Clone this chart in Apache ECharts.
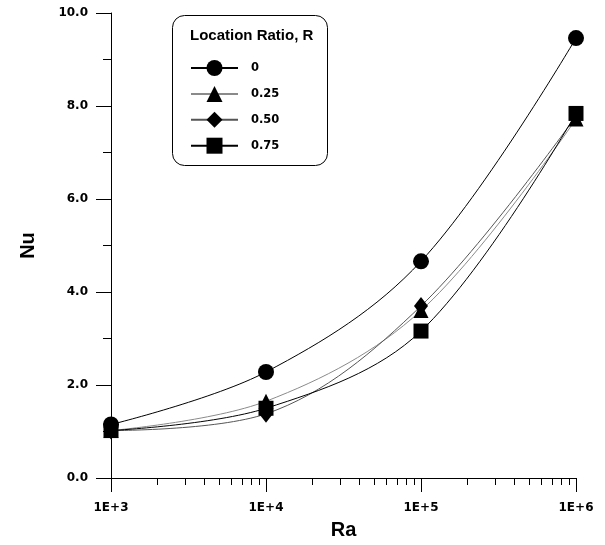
<!DOCTYPE html>
<html>
<head>
<meta charset="utf-8">
<script src="https://cdn.jsdelivr.net/npm/echarts@6/dist/echarts.min.js"></script>
<style>html,body{margin:0;padding:0;background:#fff}#c{width:605px;height:545px}</style>
</head>
<body>
<div id="c"></div>
<script>
var raValues = [1e3, 1e4, 1e5, 1e6];
var xTickLabels = ['1E+3', '1E+4', '1E+5', '1E+6'];
var seriesNames = ['0', '0.25', '0.50', '0.75'];
var nuR000 = [1.15, 2.28, 4.66, 9.46];
var nuR025 = [1.02, 1.65, 3.60, 7.72];
var nuR050 = [1.02, 1.38, 3.70, 7.78];
var nuR075 = [1.02, 1.50, 3.16, 7.84];
var minorRa = [2e3,3e3,4e3,5e3,6e3,7e3,8e3,9e3,2e4,3e4,4e4,5e4,6e4,7e4,8e4,9e4,2e5,3e5,4e5,5e5,6e5,7e5,8e5,9e5];

var FONT = '"Liberation Sans", Arial, sans-serif';
var TICKFONT = '"DejaVu Sans", sans-serif';
var chart = echarts.init(document.getElementById('c'));

function pairs(vals){ return raValues.map(function(x,i){ return [x, vals[i]]; }); }
function mk(name, vals, symbol, size, color){
  return {
    name: name, type: 'line', data: pairs(vals), smooth: 0.35,
    symbol: symbol, symbolSize: size, showSymbol: true,
    itemStyle: {color: '#000', borderWidth: 0},
    lineStyle: {color: color, width: 1},
    emphasis: {disabled: true}, animation: false
  };
}

var labelMap = {};
raValues.forEach(function(v,i){ labelMap[v] = xTickLabels[i]; });

chart.setOption({
  animation: false,
  grid: {left: 111, right: 29, top: 13, bottom: 66},
  xAxis: [{
    type: 'log', logBase: 10, min: 1e3, max: 1e6,
    name: 'Ra', nameLocation: 'middle', nameGap: 42,
    nameTextStyle: {fontFamily: FONT, fontWeight: 'bold', fontSize: 20, color: '#000'},
    axisLine: {lineStyle: {color: '#000', width: 1}},
    axisTick: {show: true, length: 14, lineStyle: {color: '#000'}},
    axisLabel: {margin: 24, fontFamily: TICKFONT, fontWeight: 'bold', fontSize: 12, color: '#000',
      formatter: function(v){ return labelMap[v] || ''; }},
    splitLine: {show: false}, minorTick: {show: false}
  },{
    type: 'log', logBase: 10, min: 1e3, max: 1e6, position: 'bottom',
    axisLine: {show: false},
    axisTick: {show: true, length: 7, customValues: minorRa, lineStyle: {color: '#000'}},
    axisLabel: {show: false},
    splitLine: {show: false}
  }],
  yAxis: {
    type: 'value', min: 0, max: 10, interval: 2,
    name: 'Nu', nameLocation: 'middle', nameGap: 73, nameRotate: 90,
    nameTextStyle: {fontFamily: FONT, fontWeight: 'bold', fontSize: 20, color: '#000'},
    axisLine: {show: true, lineStyle: {color: '#000', width: 1}},
    axisTick: {show: true, length: 15, lineStyle: {color: '#000'}},
    minorTick: {show: true, splitNumber: 2, length: 8, lineStyle: {color: '#000'}},
    axisLabel: {margin: 23, fontFamily: TICKFONT, fontWeight: 'bold', fontSize: 12, color: '#000',
      formatter: function(v){ return v.toFixed(1); }},
    splitLine: {show: false}
  },
  legend: {
    orient: 'vertical', left: 190, top: 60, padding: 0, itemWidth: 47, itemHeight: 20, itemGap: 9.9,
    data: seriesNames, selectedMode: false,
    textStyle: {fontFamily: TICKFONT, fontWeight: 'bold', fontSize: 11.5, color: '#000', padding: [0,0,0,8]}
  },
  graphic: [
    {type: 'rect', shape: {x: 172.5, y: 15.5, width: 155, height: 150, r: 12},
     style: {fill: 'none', stroke: '#000', lineWidth: 1}, z: 100},
    {type: 'text', x: 190, y: 36, style: {text: 'Location Ratio, R', fontFamily: FONT, fontWeight: 'bold',
     fontSize: 15, fill: '#000', verticalAlign: 'middle'}, z: 100}
  ],
  series: [
    mk('0', nuR000, 'circle', 16, '#000'),
    mk('0.25', nuR025, 'triangle', 15, '#8a8a8a'),
    mk('0.50', nuR050, 'diamond', [14, 18], '#555'),
    mk('0.75', nuR075, 'rect', 15, '#000')
  ]
});
</script>
</body>
</html>
